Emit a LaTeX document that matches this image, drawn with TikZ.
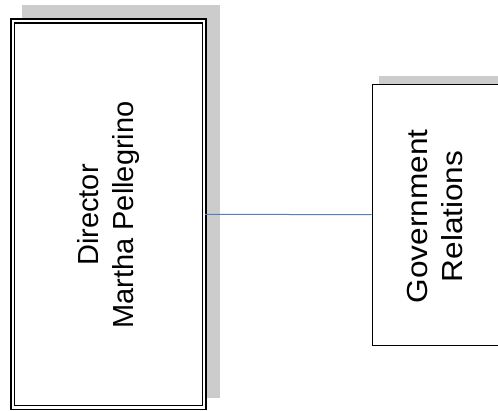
\documentclass[tikz,border=0pt]{standalone}
\usepackage{fontspec}
\setmainfont{Liberation Sans}
\definecolor{shadowgray}{HTML}{CCCCCC}
\definecolor{linkblue}{HTML}{4F81BD}
\begin{document}
\begin{tikzpicture}[x=1pt,y=-1pt,
  shadowbox/.style={fill=shadowgray, draw=none},
  dirbox/.style={draw=black, fill=white, line width=1.5pt, double=white, double distance=2.4pt,
    rectangle, inner sep=0pt, minimum width=191.5pt, minimum height=386.4pt},
  unitbox/.style={draw=black, fill=white, line width=1pt, rectangle, inner sep=0pt,
    minimum width=126.8pt, minimum height=261pt},
  boxlabel/.style={rotate=90, align=center, font=\fontsize{29}{34.8}\selectfont, inner sep=0pt},
  link/.style={draw=linkblue, line width=1pt}]
\useasboundingbox (0,0) rectangle (498,411);
% shadows
\fill[shadowbox] (22.3,5) rectangle (219.7,398.3);
\fill[shadowbox] (379,75.7) rectangle (506,337);
% boxes
\node[dirbox] (dir) at (108.5,214.3) {};
\node[unitbox] (gov) at (435.6,214.7) {};
% labels
\node[boxlabel] (dirlabel) at (108.6,215) {Director\\Martha Pellegrino};
\node[boxlabel] (govlabel) at (435.2,216.5) {\scalebox{1.09}[1]{Government}\\\scalebox{1.09}[1]{Relations}};
% connector
\draw[link] (dir.east) -- (gov.west);
\end{tikzpicture}
\end{document}
